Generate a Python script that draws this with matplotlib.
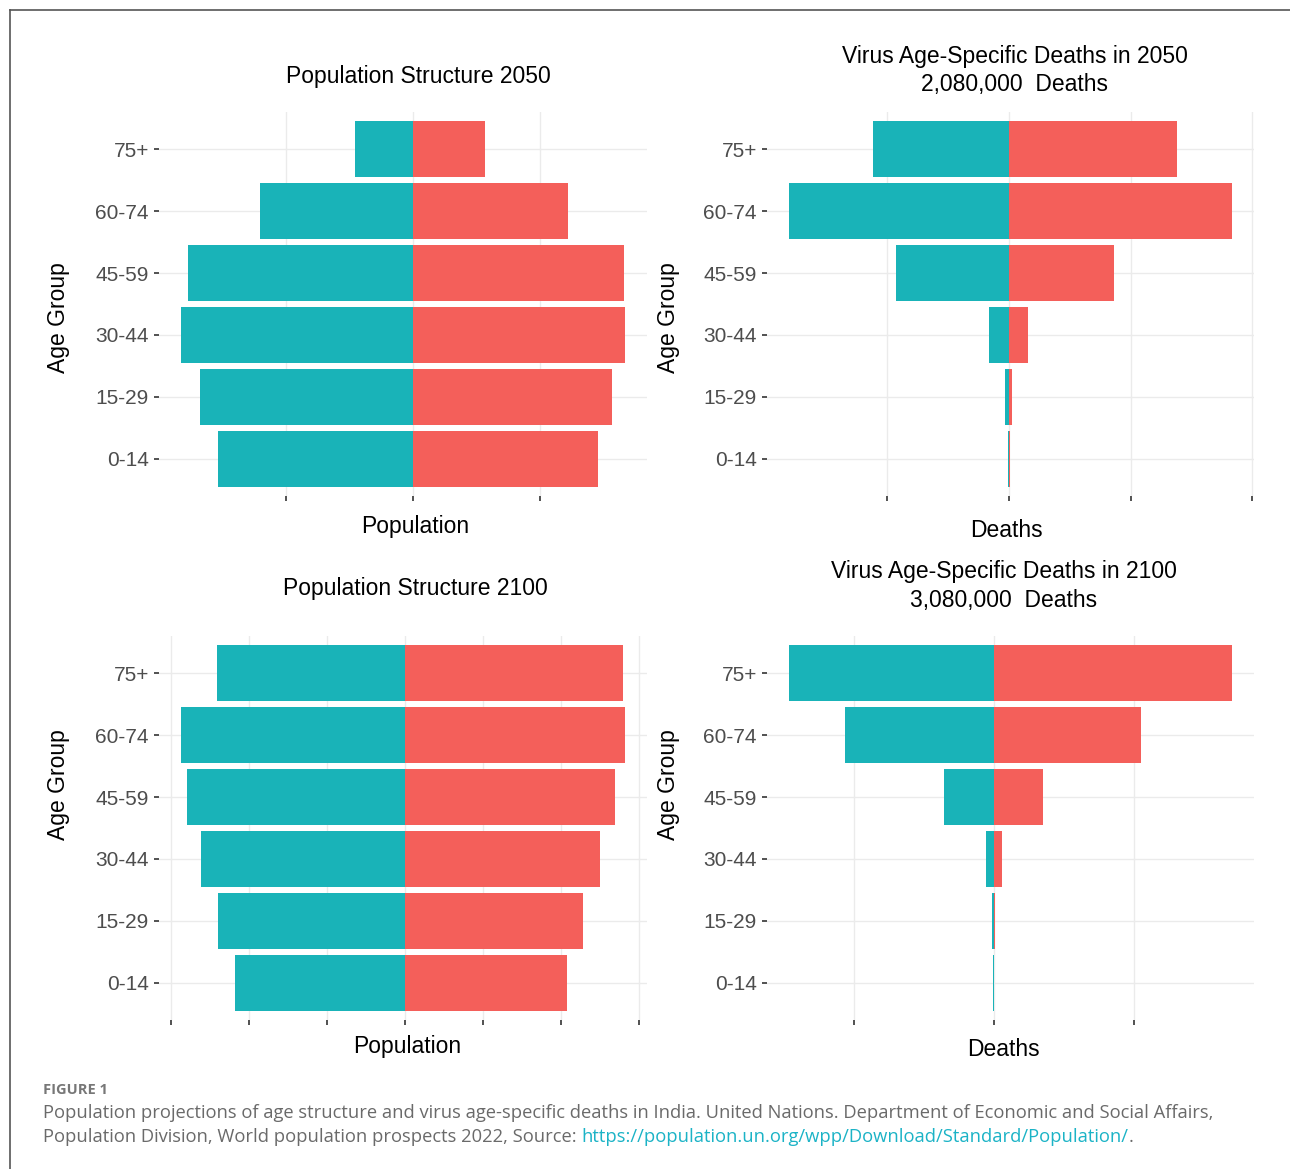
import numpy as np
import matplotlib
matplotlib.use("Agg")
import matplotlib.pyplot as plt
from matplotlib.lines import Line2D

W, H = 1290, 1169
DPI = 100

age_groups = ["0-14", "15-29", "30-44", "45-59", "60-74", "75+"]

# population in millions (left = teal, right = red)
pop2050_left = [154, 168, 183, 178, 121, 46]
pop2050_right = [146, 157, 167, 166, 122, 57]
pop2100_left = [109, 120, 131, 140, 143.5, 120.5]
pop2100_right = [104, 114, 125, 135, 141, 140]

# deaths in thousands
deaths2050_left = [3, 8, 41, 232, 452, 279]
deaths2050_right = [2, 6, 39, 216, 458, 345]
deaths2100_left = [3, 7, 29, 179, 532, 732]
deaths2100_right = [1, 4, 29, 175, 525, 850]

TEAL = "#19B3B8"
RED = "#F45F5A"
GRID = "#EBEBEB"
FONT = "Liberation Sans"

fig = plt.figure(figsize=(W / DPI, H / DPI), dpi=DPI)
fig.patch.set_facecolor("white")


def fx(x):
    return x / W


def fy(y):
    return 1 - y / H


def panel(x0, x1, y0, y1, left, right, ticks):
    ax = fig.add_axes([fx(x0), fy(y1), fx(x1 - x0), (y1 - y0) / H])
    y = np.arange(len(age_groups))
    ax.barh(y, right, height=0.9, color=RED, zorder=3)
    ax.barh(y, -np.array(left), height=0.9, color=TEAL, zorder=3)
    lo, hi = -max(left), max(right)
    pad = 0.05 * (hi - lo)
    ax.set_xlim(lo - pad, hi + pad)
    ax.set_ylim(-0.6, len(age_groups) - 0.4)
    ax.set_yticks(y)
    ax.set_yticklabels(age_groups, fontfamily=FONT)
    ax.set_xticks(ticks)
    ax.set_xticklabels([])
    for s in ax.spines.values():
        s.set_visible(False)
    ax.grid(True, color=GRID, linewidth=1.0, zorder=0)
    ax.set_axisbelow(True)
    ax.tick_params(length=3.6, width=1.2, color="#333333", labelcolor="#4D4D4D",
                   labelsize=15, pad=3.6)
    return ax


panel(159, 647, 112, 496, pop2050_left, pop2050_right, [-100, 0, 100])
panel(767, 1254, 112, 496, deaths2050_left, deaths2050_right, [-250, 0, 250, 500])
panel(159, 647, 636, 1020, pop2100_left, pop2100_right, [-150, -100, -50, 0, 50, 100, 150])
panel(767, 1254, 636, 1020, deaths2100_left, deaths2100_right, [-500, 0, 500])

tkw = dict(fontsize=16.5, family=FONT, color="black", ha="center", va="center")
fig.text(fx(418), fy(76), "Population Structure 2050", **tkw)
fig.text(fx(1015), fy(56), "Virus Age-Specific Deaths in 2050", **tkw)
fig.text(fx(1015), fy(84), "2,080,000  Deaths", **tkw)
fig.text(fx(415), fy(588), "Population Structure 2100", **tkw)
fig.text(fx(1004), fy(572), "Virus Age-Specific Deaths in 2100", **tkw)
fig.text(fx(1004), fy(600), "3,080,000  Deaths", **tkw)

fig.text(fx(415), fy(527), "Population", **tkw)
fig.text(fx(1006), fy(531), "Deaths", **tkw)
fig.text(fx(407), fy(1047), "Population", **tkw)
fig.text(fx(1003), fy(1050), "Deaths", **tkw)

for x, y in [(58, 318), (668, 318), (58, 785), (668, 785)]:
    fig.text(fx(x), fy(y), "Age Group", rotation=90, **tkw)

# frame
fig.add_artist(Line2D([fx(10), 1.0], [fy(10), fy(10)], color="#555555", linewidth=1.2))
fig.add_artist(Line2D([fx(10), fx(10)], [fy(10), 0.0], color="#555555", linewidth=1.2))

# caption
CAP = "Open Sans"
CS = 13.2
fig.text(fx(43), fy(1090), "FIGURE 1", fontsize=10.5, fontweight="bold", family=CAP,
         color="#777777", ha="left", va="center")
fig.text(fx(43), fy(1113),
         "Population projections of age structure and virus age-specific deaths in India. "
         "United Nations. Department of Economic and Social Affairs,",
         fontsize=CS, family=CAP, color="#6A6A6A", ha="left", va="center")
t1 = fig.text(fx(43), fy(1137),
              "Population Division, World population prospects 2022, Source: ",
              fontsize=CS, family=CAP, color="#6A6A6A", ha="left", va="center")
r = fig.canvas.get_renderer()
bb = t1.get_window_extent(r)
t2 = fig.text(bb.x1 / W, fy(1137), "https://population.un.org/wpp/Download/Standard/Population/",
              fontsize=CS, family=CAP, color="#1BB3C6", ha="left", va="center")
bb2 = t2.get_window_extent(r)
fig.text(bb2.x1 / W, fy(1137), ".", fontsize=CS, family=CAP, color="#6A6A6A",
         ha="left", va="center")

fig.savefig("out.png", dpi=DPI)
